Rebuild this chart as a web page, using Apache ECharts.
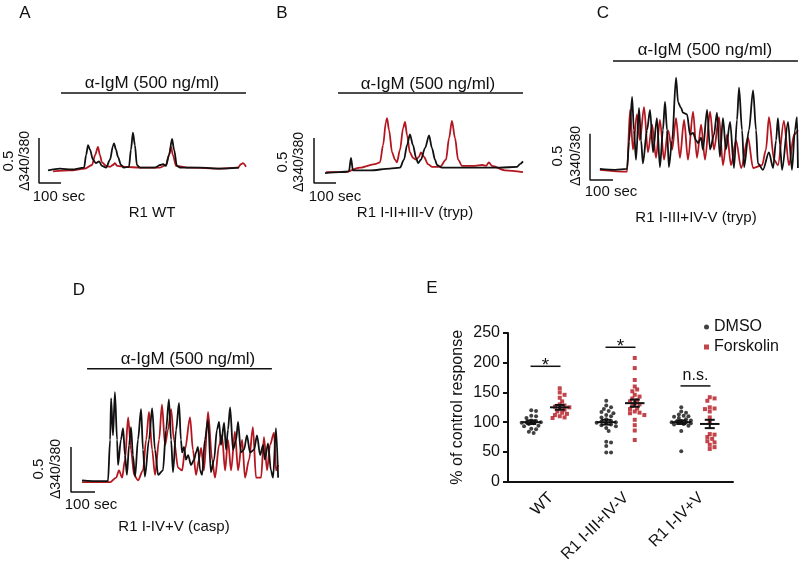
<!DOCTYPE html>
<html>
<head>
<meta charset="utf-8">
<script src="https://cdn.jsdelivr.net/npm/echarts@6/dist/echarts.min.js"></script>
<style>
  html, body { margin: 0; padding: 0; background: #fff; }
  #chart { width: 800px; height: 565px; }
</style>
</head>
<body>
<div id="chart"></div>
<script>
// traces: [time (sec), Δ340/380]
const aBlack = [[41,0.14],[95,0.16],[150,0.15],[205,0.17],[214,0.31],[223,0.42],[232,0.37],[245,0.26],[259,0.22],[273,0.24],[286,0.19],[305,0.17],[323,0.26],[336,0.41],[341,0.44],[350,0.37],[359,0.29],[373,0.20],[386,0.17],[409,0.18],[418,0.37],[427,0.56],[436,0.42],[445,0.20],[459,0.17],[527,0.17],[550,0.20],[564,0.21],[577,0.19],[591,0.31],[605,0.49],[614,0.37],[627,0.19],[641,0.17],[732,0.17],[820,0.16],[909,0.17]]
const aRed = [[64,0.13],[141,0.14],[209,0.16],[241,0.20],[255,0.31],[268,0.40],[277,0.31],[286,0.23],[305,0.19],[323,0.18],[336,0.20],[345,0.22],[355,0.19],[391,0.18],[459,0.17],[550,0.17],[577,0.20],[591,0.31],[600,0.40],[609,0.31],[623,0.19],[686,0.17],[823,0.16],[905,0.17],[918,0.21],[927,0.22],[941,0.18]]

const bBlack = [[50,0.11],[118,0.12],[159,0.13],[168,0.28],[177,0.14],[255,0.14],[345,0.16],[391,0.17],[409,0.26],[423,0.42],[436,0.54],[450,0.42],[464,0.28],[473,0.22],[486,0.26],[505,0.39],[523,0.53],[536,0.39],[550,0.26],[559,0.20],[582,0.17],[709,0.17],[845,0.17],[923,0.18],[936,0.21],[950,0.24]]
const bRed = [[55,0.12],[141,0.12],[209,0.17],[277,0.21],[300,0.23],[314,0.42],[327,0.68],[332,0.72],[341,0.59],[355,0.34],[368,0.26],[377,0.23],[391,0.37],[405,0.61],[414,0.68],[423,0.53],[436,0.34],[450,0.28],[464,0.26],[477,0.29],[486,0.34],[500,0.29],[518,0.21],[536,0.18],[573,0.18],[600,0.26],[614,0.50],[627,0.69],[641,0.50],[655,0.26],[673,0.19],[732,0.19],[764,0.20],[782,0.19],[795,0.23],[809,0.19],[868,0.14],[950,0.12]]

const cBlack = [[43,0.12],[109,0.11],[161,0.12],[170,0.42],[183,0.90],[191,0.54],[200,0.22],[213,0.78],[222,0.43],[230,0.18],[248,0.54],[261,0.76],[274,0.30],[291,0.67],[304,0.14],[317,0.54],[326,0.85],[335,0.54],[343,0.14],[357,0.43],[374,1.11],[383,0.84],[396,0.78],[404,0.73],[422,0.71],[435,0.49],[448,0.51],[461,0.43],[470,0.40],[483,0.46],[491,0.33],[509,0.76],[522,0.33],[539,0.49],[552,0.73],[565,0.25],[578,0.67],[591,0.33],[609,0.63],[626,0.13],[639,0.65],[648,1.00],[661,0.54],[670,0.14],[691,0.54],[709,0.97],[722,0.54],[730,0.18],[752,0.11],[778,0.30],[796,0.13],[809,0.43],[817,0.67],[826,0.38],[835,0.11],[861,0.63],[878,0.11],[891,0.54],[900,0.68],[904,0.13]]
const cRed = [[43,0.11],[161,0.09],[174,0.76],[187,0.33],[204,0.71],[217,0.43],[235,0.79],[252,0.30],[270,0.60],[287,0.24],[304,0.65],[322,0.22],[339,0.54],[357,0.33],[374,0.67],[391,0.24],[409,0.65],[426,0.22],[448,0.74],[465,0.24],[483,0.60],[500,0.22],[522,0.74],[539,0.33],[561,0.68],[578,0.16],[596,0.49],[613,0.16],[635,0.43],[657,0.13],[687,0.46],[709,0.13],[748,0.16],[765,0.33],[778,0.68],[800,0.22],[817,0.16],[843,0.64],[865,0.16],[887,0.49],[904,0.54]]

const dBlack = [[46,0.13],[121,0.12],[154,0.12],[163,0.58],[167,1.04],[175,0.63],[183,1.11],[192,0.58],[196,0.30],[208,0.58],[217,0.71],[225,0.41],[233,0.19],[242,0.52],[250,0.72],[258,0.41],[267,0.17],[279,0.58],[292,0.92],[300,0.47],[308,0.17],[325,0.58],[338,0.93],[350,0.47],[363,0.19],[383,0.24],[396,0.69],[408,1.03],[417,0.58],[425,0.22],[438,0.69],[450,0.99],[458,0.58],[463,0.44],[471,0.50],[479,0.36],[488,0.41],[500,0.30],[513,0.36],[521,0.44],[529,0.50],[538,0.24],[546,0.19],[558,0.58],[571,0.80],[583,0.22],[596,0.36],[608,0.69],[617,0.78],[625,0.52],[638,0.77],[646,0.47],[654,0.69],[663,0.94],[675,0.47],[688,0.58],[696,0.78],[708,0.44],[721,0.47],[733,0.63],[746,0.44],[763,0.47],[775,0.63],[788,0.41],[800,0.52],[808,0.36],[821,0.54],[833,0.24],[842,0.16],[854,0.71],[863,0.16]]
const dRed = [[46,0.11],[163,0.11],[188,0.16],[200,0.24],[213,0.16],[225,0.36],[238,0.83],[250,0.47],[263,0.19],[279,0.13],[300,0.24],[313,0.58],[325,0.89],[338,0.47],[350,0.19],[367,0.58],[379,0.97],[392,0.52],[404,0.69],[417,0.92],[429,0.58],[446,0.27],[463,0.24],[475,0.47],[496,0.83],[508,0.47],[521,0.19],[533,0.36],[542,0.49],[554,0.24],[571,0.89],[588,0.36],[600,0.16],[617,0.52],[629,0.63],[642,0.24],[654,0.58],[667,0.24],[683,0.67],[696,0.24],[713,0.58],[725,0.16],[742,0.36],[758,0.72],[771,0.16],[792,0.16],[804,0.61],[817,0.24],[829,0.52],[846,0.66],[854,0.24],[863,0.30]]

// anti-IgM added (sec) and scale bars
const stimA = [100, 941]
const stimB = [109, 950]
const stimC = [100, 904]
const stimD = [67, 837]
const scaleSec = 100
const scaleRatio = 0.5

// panel E: % of control response
const eCategories = ['WT', 'R1 I-III+IV-V', 'R1 I-IV+V']
const dmsoWT = [120, 119, 110, 111, 107, 103, 102, 100, 100, 99, 98, 97, 94, 93, 89, 88, 84, 82]
const fskWT = [157, 150, 146, 141, 135, 130, 128, 126, 125, 123, 121, 118, 116, 114, 112, 110, 108, 107]
const dmsoR1a = [136, 128, 125, 122, 119, 117, 115, 112, 110, 108, 105, 102, 101, 100, 99, 98, 96, 95, 93, 90, 85, 67, 66, 60, 49, 49]
const fskR1a = [208, 191, 171, 160, 155, 152, 146, 143, 140, 137, 135, 132, 130, 127, 123, 122, 118, 116, 115, 112, 104, 95, 86, 70]
const dmsoR1b = [125, 118, 116, 113, 111, 110, 109, 107, 105, 103, 102, 101, 100, 100, 99, 98, 97, 96, 94, 85, 51]
const fskR1b = [142, 140, 136, 125, 123, 122, 118, 108, 100, 80, 79, 75, 72, 68, 66, 62, 58, 55]
const dmsoMean = [100, 100, 100]
const dmsoSem = [3, 4, 3]
const fskMean = [125, 132, 97]
const fskSem = [4, 6, 7]
const sigY = [194, 226, 161]
const sigLabel = ['*', '*', 'n.s.']

const FONT = "'Liberation Sans', Arial, sans-serif"
const BLACK = '#111111'
const RED = '#b3161f'

let myChart = echarts.init(document.getElementById('chart'))

// trace panels A-D
const panels = [
  { grid: { left: 39, top: 93, width: 207, height: 90 }, xMax: 941, yMax: 1.0, stim: stimA, stimV: 1.0, black: aBlack, red: aRed },
  { grid: { left: 314, top: 93, width: 209, height: 90 }, xMax: 950, yMax: 1.0, stim: stimB, stimV: 1.0, black: bBlack, red: bRed },
  { grid: { left: 590, top: 60, width: 210, height: 120 }, xMax: 913, yMax: 1.3, stim: stimC, stimV: 1.29, black: cBlack, red: cRed },
  { grid: { left: 71, top: 366, width: 210, height: 126 }, xMax: 875, yMax: 1.4, stim: stimD, stimV: 1.37, black: dBlack, red: dRed },
]

const grids = panels.map(p => p.grid)
grids.push({ left: 508, top: 333, width: 225, height: 150 })

const xAxes = panels.map((p, i) => ({ type: 'value', gridIndex: i, min: 0, max: p.xMax, show: false }))
const yAxes = panels.map((p, i) => ({ type: 'value', gridIndex: i, min: 0, max: p.yMax, show: false }))

xAxes.push({
  type: 'category',
  gridIndex: 4,
  data: eCategories,
  boundaryGap: true,
  axisLine: { onZero: false, lineStyle: { color: BLACK, width: 2 } },
  axisTick: { alignWithLabel: true, length: 6, lineStyle: { color: BLACK, width: 2 } },
  axisLabel: { rotate: 45, interval: 0, margin: 8, verticalAlign: 'top', fontSize: 16, color: BLACK, fontFamily: FONT },
})
// hidden value axis to place dots around each category
xAxes.push({ type: 'value', gridIndex: 4, min: -0.5, max: 2.5, show: false })
yAxes.push({
  type: 'value',
  gridIndex: 4,
  min: 0,
  max: 250,
  interval: 50,
  axisLine: { show: true, onZero: false, lineStyle: { color: BLACK, width: 2 } },
  axisTick: { show: true, length: 5, lineStyle: { color: BLACK, width: 2 } },
  splitLine: { show: false },
  axisLabel: { fontSize: 16, color: BLACK, margin: 8, fontFamily: FONT },
  name: '% of control response',
  nameLocation: 'middle',
  nameGap: 42,
  nameTextStyle: { fontSize: 16, color: BLACK, fontFamily: FONT },
})

function line(idx, data, color, width, z, smooth) {
  return {
    type: 'line',
    xAxisIndex: idx,
    yAxisIndex: idx,
    data: data,
    showSymbol: false,
    silent: true,
    clip: false,
    smooth: smooth || false,
    smoothMonotone: 'x',
    z: z,
    lineStyle: { color: color, width: width },
    itemStyle: { color: color },
  }
}

const series = []
panels.forEach((p, i) => {
  series.push(line(i, p.red, RED, 1.8, 2, 0.3))
  series.push(line(i, p.black, BLACK, 1.8, 3, 0.3))
  // scale bar: 100 sec x 0.5
  series.push(line(i, [[scaleSec, 0], [0, 0], [0, scaleRatio]], BLACK, 1.5, 4))
  // stimulus bar
  series.push(line(i, [[p.stim[0], p.stimV], [p.stim[1], p.stimV]], BLACK, 1.5, 4))
})

// simple beeswarm so dots with close values sit side by side
function swarm(values, center) {
  const sx = 75, sy = 150 / 250, d = 3.8, step = 2.4, maxOff = 11
  const placed = []
  values.slice().sort((a, b) => b - a).forEach(v => {
    let best = null, bestGap = -1
    for (let k = 0; k < 30; k++) {
      const off = (k % 2 ? 1 : -1) * Math.ceil(k / 2) * step
      if (Math.abs(off) > maxOff) break
      const gap = Math.min(Infinity, ...placed.map(q => Math.hypot(q[0] - off, (q[1] - v) * sy)))
      if (gap >= d) { best = off; break }
      if (gap > bestGap) { bestGap = gap; best = off }
    }
    placed.push([best, v])
  })
  return placed.map(q => [center + q[0] / sx, q[1]])
}

const shift = 0.19
const dmsoPts = [].concat(swarm(dmsoWT, 0 - shift), swarm(dmsoR1a, 1 - shift), swarm(dmsoR1b, 2 - shift))
const fskPts = [].concat(swarm(fskWT, 0 + shift), swarm(fskR1a, 1 + shift), swarm(fskR1b, 2 + shift))

series.push({
  name: 'DMSO', type: 'scatter', xAxisIndex: 5, yAxisIndex: 4,
  data: dmsoPts, symbol: 'circle', symbolSize: 4, itemStyle: { color: BLACK }, z: 3,
})
series.push({
  name: 'Forskolin', type: 'scatter', xAxisIndex: 5, yAxisIndex: 4,
  data: fskPts, symbol: 'rect', symbolSize: 4, itemStyle: { color: RED }, z: 3,
})

// mean +/- SEM
const meanData = []
eCategories.forEach((c, i) => {
  meanData.push([i - shift, dmsoMean[i], dmsoSem[i]])
  meanData.push([i + shift, fskMean[i], fskSem[i]])
})
series.push({
  type: 'custom', xAxisIndex: 5, yAxisIndex: 4, z: 5, silent: true,
  data: meanData,
  renderItem: (params, api) => {
    const x = api.value(0), m = api.value(1), s = api.value(2)
    const l = api.coord([x - 0.13, m]), r = api.coord([x + 0.13, m])
    const top = api.coord([x, m + s]), bot = api.coord([x, m - s])
    const cw = 5
    const st = { stroke: BLACK, lineWidth: 2 }
    return {
      type: 'group',
      children: [
        { type: 'line', shape: { x1: l[0], y1: l[1], x2: r[0], y2: r[1] }, style: st },
        { type: 'line', shape: { x1: top[0], y1: top[1], x2: bot[0], y2: bot[1] }, style: st },
        { type: 'line', shape: { x1: top[0] - cw, y1: top[1], x2: top[0] + cw, y2: top[1] }, style: st },
        { type: 'line', shape: { x1: bot[0] - cw, y1: bot[1], x2: bot[0] + cw, y2: bot[1] }, style: st },
      ],
    }
  },
})

// significance bars
series.push({
  type: 'custom', xAxisIndex: 5, yAxisIndex: 4, z: 5, silent: true,
  data: sigY.map((y, i) => [i, y, i]),
  renderItem: (params, api) => {
    const i = api.value(2)
    const l = api.coord([i - 0.2, api.value(1)]), r = api.coord([i + 0.2, api.value(1)])
    const star = sigLabel[i] === '*'
    return {
      type: 'group',
      children: [
        { type: 'line', shape: { x1: l[0], y1: l[1], x2: r[0], y2: r[1] }, style: { stroke: BLACK, lineWidth: 1.5 } },
        {
          type: 'text', x: (l[0] + r[0]) / 2, y: star ? l[1] - 1 : l[1] - 10,
          style: { text: sigLabel[i], fontSize: star ? 19 : 16, fontFamily: FONT, fill: BLACK, align: 'center', verticalAlign: 'middle' },
        },
      ],
    }
  },
})

function txt(s, x, y, size, rot) {
  return {
    type: 'text', x: x, y: y, rotation: rot || 0, silent: true,
    style: {
      text: s, fontSize: size, fontFamily: FONT, fill: BLACK,
      align: 'center', verticalAlign: 'middle', textAlign: 'center', textVerticalAlign: 'middle',
    },
  }
}

const R = Math.PI / 2
const texts = [
  txt('A', 25, 13, 17), txt('B', 282, 13, 17), txt('C', 603, 13, 17), txt('D', 79, 290, 17), txt('E', 432, 288, 17),
  txt('α-IgM (500 ng/ml)', 152, 83, 17), txt('α-IgM (500 ng/ml)', 428, 84, 17),
  txt('α-IgM (500 ng/ml)', 705, 50, 17), txt('α-IgM (500 ng/ml)', 188, 359, 17),
  txt('R1 WT', 152, 213, 15), txt('R1 I-II+III-V (tryp)', 415, 213, 15),
  txt('R1 I-III+IV-V (tryp)', 696, 218, 15), txt('R1 I-IV+V (casp)', 174, 527, 15),
  txt('100 sec', 59, 197, 15), txt('100 sec', 335, 197, 15), txt('100 sec', 611, 192, 15), txt('100 sec', 91, 505, 15),
  txt('0.5', 9, 161, 15, R), txt('Δ340/380', 25, 161, 14, R),
  txt('0.5', 283, 162, 15, R), txt('Δ340/380', 299, 162, 14, R),
  txt('0.5', 558, 156, 15, R), txt('Δ340/380', 576, 156, 14, R),
  txt('0.5', 39, 469, 15, R), txt('Δ340/380', 56, 469, 14, R),
]

myChart.setOption({
  animation: false,
  backgroundColor: '#fff',
  textStyle: { fontFamily: FONT },
  grid: grids,
  xAxis: xAxes,
  yAxis: yAxes,
  legend: {
    orient: 'vertical',
    left: 699,
    top: 314,
    itemWidth: 5,
    itemHeight: 5,
    itemGap: 4,
    textStyle: { fontSize: 16, color: BLACK, fontFamily: FONT },
    data: [{ name: 'DMSO', icon: 'circle' }, { name: 'Forskolin', icon: 'rect' }],
  },
  graphic: { elements: texts },
  series: series,
})
</script>
</body>
</html>
